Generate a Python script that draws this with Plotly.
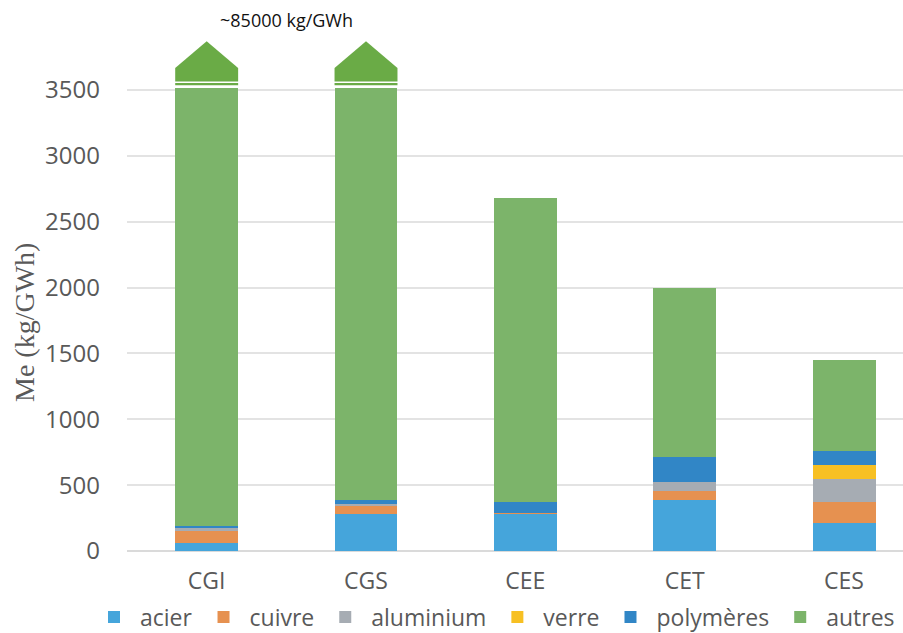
import plotly.graph_objects as go

# Material intensity per technology (kg/GWh)
categories = ["CGI", "CGS", "CEE", "CET", "CES"]
acier = [60, 280, 285, 390, 210]
cuivre = [95, 62, 5, 66, 165]
aluminium = [22, 12, 0, 68, 170]
verre = [0, 0, 0, 0, 110]
polymeres = [10, 33, 85, 192, 105]
autres = [84813, 84613, 2305, 1284, 690]

series_names = ["acier", "cuivre", "aluminium", "verre", "polymères", "autres"]
series_values = [acier, cuivre, aluminium, verre, polymeres, autres]
colors = ["#45a5db", "#e69150", "#a6acb3", "#f7c023", "#3186c6", "#7cb46a"]

# bars taller than this are drawn cut, with a broken-arrow cap
axis_cap = 3515
break_color = "#6aab46"
bar_width = 0.395
huge_label = "~85000 kg/GWh"

# plot-area geometry in pixels (used to place paper-referenced text)
W, H = 903, 633
M_L, M_R, M_T, M_B = 127, 0, 35, 82
plot_w = W - M_L - M_R
plot_h = H - M_T - M_B


def px_x(px):
    return (px - M_L) / plot_w


def px_y(py):
    return (H - M_B - py) / plot_h


fig = go.Figure()

base = [0] * len(categories)
for name, vals, col in zip(series_names, series_values, colors):
    shown = [min(v, max(axis_cap - b, 0)) for v, b in zip(vals, base)]
    fig.add_trace(go.Bar(
        x=categories, y=shown, name=name, width=bar_width,
        marker=dict(color=col, line=dict(width=0)),
        hovertext=[f"{name}: {v}" for v in vals], hoverinfo="text",
    ))
    base = [b + v for b, v in zip(base, vals)]

# break marks on bars that exceed the axis
for i, total in enumerate(base):
    if total <= axis_cap:
        continue
    x0, x1 = i - bar_width / 2, i + bar_width / 2
    fig.add_shape(type="rect", xref="x", yref="y", x0=x0, x1=x1,
                  y0=axis_cap + 22, y1=axis_cap + 38,
                  fillcolor=break_color, line=dict(width=0), layer="above")
    fig.add_shape(type="path", xref="x", yref="y",
                  path=(f"M {x0} {axis_cap + 50} L {x1} {axis_cap + 50} "
                        f"L {x1} {axis_cap + 152} L {i} {axis_cap + 355} "
                        f"L {x0} {axis_cap + 152} Z"),
                  fillcolor=break_color, line=dict(width=0), layer="above")

fig.add_annotation(x=0.5, xref="x", y=px_y(20), yref="paper", text=huge_label,
                   showarrow=False, yanchor="middle",
                   font=dict(family="Open Sans", size=18, color="#111111"))

# y-axis title
fig.add_annotation(x=px_x(24), xref="paper", y=px_y(323), yref="paper",
                   text="Me (kg/GWh)", textangle=-90, showarrow=False,
                   xanchor="center", yanchor="middle",
                   font=dict(family="Liberation Serif", size=28, color="#595959"))

fig.update_layout(
    width=W, height=H,
    margin=dict(l=M_L, r=M_R, t=M_T, b=M_B, autoexpand=False),
    barmode="stack",
    plot_bgcolor="white", paper_bgcolor="white",
    font=dict(family="Open Sans", color="#595959"),
    showlegend=True,
    legend=dict(orientation="h", x=px_x(88), xanchor="left", y=px_y(617), yanchor="middle",
                font=dict(size=23, color="#595959"), traceorder="normal",
                itemwidth=42, tracegroupgap=0),
)
fig.update_xaxes(
    range=[-0.5, 4.37], showgrid=False, showline=False, ticks="",
    tickfont=dict(size=23, color="#595959"), ticklabelstandoff=14,
    automargin=False,
)
fig.update_yaxes(
    range=[0, 3918], tickvals=[0, 500, 1000, 1500, 2000, 2500, 3000, 3500],
    showgrid=True, gridcolor="#e3e3e3", gridwidth=1.5,
    zeroline=True, zerolinecolor="#dadada", zerolinewidth=1.5,
    tickfont=dict(size=24, color="#595959"), ticklabelstandoff=26,
    automargin=False,
)

fig.write_html("out.html")
